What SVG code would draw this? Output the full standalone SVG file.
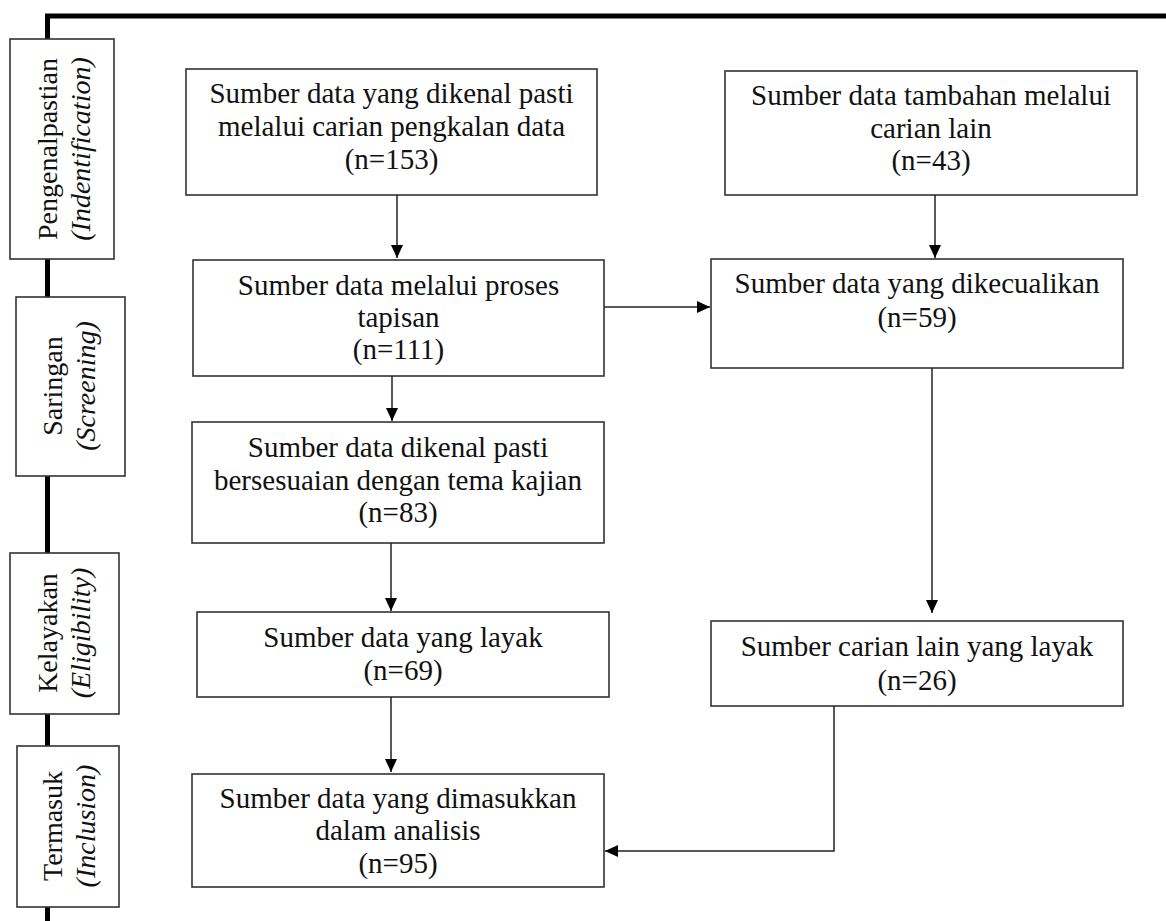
<svg xmlns="http://www.w3.org/2000/svg" width="1166" height="921" viewBox="0 0 1166 921" font-family="Liberation Serif, DejaVu Serif, serif">
<style>
.box{fill:#fff;stroke:#333;stroke-width:1.6}
text{font-family:Liberation Serif, DejaVu Serif, serif}
.t{font-size:29px;fill:#111;text-anchor:middle}
.s{font-size:28px;fill:#111;text-anchor:middle}
.i{font-style:italic}
.c{fill:none;stroke:#222;stroke-width:1.5}
.frame{fill:none;stroke:#000;stroke-width:5}
</style>
<defs>
<marker id="ah" markerUnits="userSpaceOnUse" markerWidth="13" markerHeight="12" refX="13" refY="6" orient="auto">
<path d="M0,0 L13,6 L0,12 z" fill="#000"/>
</marker>
</defs>
<rect width="1166" height="921" fill="#fff"/>
<g id="frame">
<path class="frame" d="M47.5,921 V16 H1166"/>
</g>
<g id="stage-identification">
<rect class="box" x="10" y="39" width="104" height="220"/>
<text class="s" transform="translate(57,149) rotate(-90)">Pengenalpastian</text>
<text class="s i" transform="translate(90,149) rotate(-90)">(Indentification)</text>
</g>
<g id="stage-screening">
<rect class="box" x="16" y="297" width="109" height="179"/>
<text class="s" transform="translate(62,386) rotate(-90)">Saringan</text>
<text class="s i" transform="translate(95,386) rotate(-90)">(Screening)</text>
</g>
<g id="stage-eligibility">
<rect class="box" x="10" y="553" width="109" height="161"/>
<text class="s" transform="translate(57,633) rotate(-90)">Kelayakan</text>
<text class="s i" transform="translate(90,633) rotate(-90)">(Eligibility)</text>
</g>
<g id="stage-inclusion">
<rect class="box" x="17" y="746" width="102" height="161"/>
<text class="s" transform="translate(62,826) rotate(-90)">Termasuk</text>
<text class="s i" transform="translate(95,826) rotate(-90)">(Inclusion)</text>
</g>
<g id="n1">
<rect class="box" x="186" y="69" width="411" height="126"/>
<text class="t" x="391.5" y="103">Sumber data yang dikenal pasti</text>
<text class="t" x="391.5" y="136">melalui carian pengkalan data</text>
<text class="t" x="391.5" y="169">(n=153)</text>
</g>
<g id="n2">
<rect class="box" x="725" y="71" width="412" height="124"/>
<text class="t" x="931" y="105">Sumber data tambahan melalui</text>
<text class="t" x="931" y="138">carian lain</text>
<text class="t" x="931" y="170">(n=43)</text>
</g>
<g id="n3">
<rect class="box" x="193" y="260" width="411" height="116"/>
<text class="t" x="398.5" y="295">Sumber data melalui proses</text>
<text class="t" x="398.5" y="327">tapisan</text>
<text class="t" x="398.5" y="359">(n=111)</text>
</g>
<g id="n4">
<rect class="box" x="711" y="259" width="412" height="109"/>
<text class="t" x="917" y="293">Sumber data yang dikecualikan</text>
<text class="t" x="917" y="327">(n=59)</text>
</g>
<g id="n5">
<rect class="box" x="192" y="422" width="412" height="121"/>
<text class="t" x="398" y="457">Sumber data dikenal pasti</text>
<text class="t" x="398" y="490">bersesuaian dengan tema kajian</text>
<text class="t" x="398" y="522">(n=83)</text>
</g>
<g id="n6">
<rect class="box" x="197" y="612" width="412" height="85"/>
<text class="t" x="403" y="647">Sumber data yang layak</text>
<text class="t" x="403" y="680">(n=69)</text>
</g>
<g id="n7">
<rect class="box" x="711" y="621" width="412" height="85"/>
<text class="t" x="917" y="656">Sumber carian lain yang layak</text>
<text class="t" x="917" y="690">(n=26)</text>
</g>
<g id="n8">
<rect class="box" x="192" y="774" width="412" height="113"/>
<text class="t" x="398" y="808">Sumber data yang dimasukkan</text>
<text class="t" x="398" y="840">dalam analisis</text>
<text class="t" x="398" y="873">(n=95)</text>
</g>
<g id="connectors">
<path class="c" d="M397,195 V258" marker-end="url(#ah)"/>
<path class="c" d="M935,195 V258" marker-end="url(#ah)"/>
<path class="c" d="M604,307 H710" marker-end="url(#ah)"/>
<path class="c" d="M392,376 V421" marker-end="url(#ah)"/>
<path class="c" d="M391,543 V611" marker-end="url(#ah)"/>
<path class="c" d="M932,368 V613" marker-end="url(#ah)"/>
<path class="c" d="M391,697 V772" marker-end="url(#ah)"/>
<path class="c" d="M834,706 V851 H605" marker-end="url(#ah)"/>
</g>
</svg>
